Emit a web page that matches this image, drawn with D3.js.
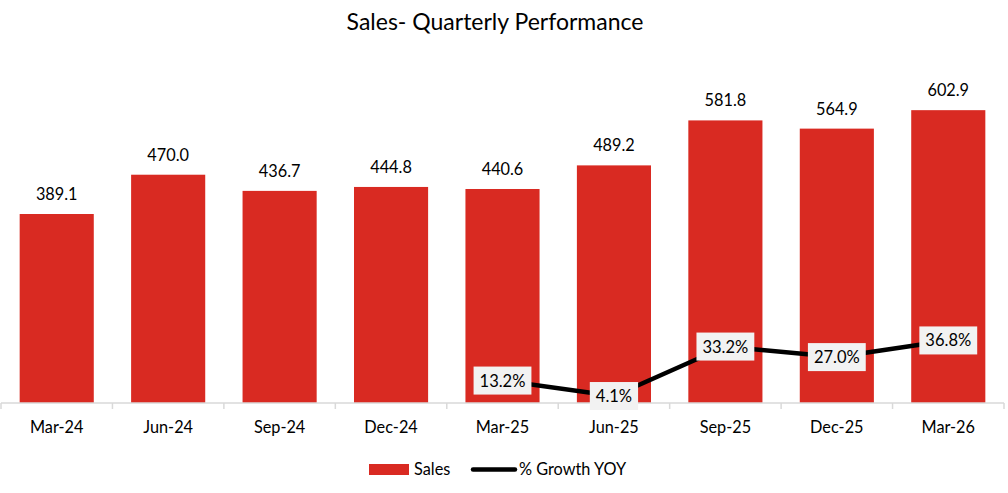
<!DOCTYPE html>
<html>
<head>
<meta charset="utf-8">
<script src="https://cdn.jsdelivr.net/npm/d3@7"></script>
<style>
  body { margin: 0; background: #fff; }
  svg text { font-family: Lato, "Noto Sans", sans-serif; fill: #000; }
</style>
</head>
<body>
<div id="chart"></div>
<script>
// chart data
var quarters = ["Mar-24", "Jun-24", "Sep-24", "Dec-24", "Mar-25", "Jun-25", "Sep-25", "Dec-25", "Mar-26"];
var sales = [389.1, 470.0, 436.7, 444.8, 440.6, 489.2, 581.8, 564.9, 602.9];
var growth = [null, null, null, null, 13.2, 4.1, 33.2, 27.0, 36.8];

var width = 1008;
var height = 493;
var margin = { top: 63, right: 4, bottom: 90, left: 1 };

var svg = d3.select("#chart")
  .append("svg")
  .attr("width", width)
  .attr("height", height);

var x = d3.scaleBand()
  .domain(quarters)
  .range([margin.left, width - margin.right])
  .paddingInner(0.335)
  .paddingOuter(0.1675);

var y = d3.scaleLinear()
  .domain([0, 700])
  .range([height - margin.bottom, margin.top]);

// secondary axis for % growth (hidden)
var y2 = d3.scaleLinear()
  .domain([0, 200])
  .range([height - margin.bottom, margin.top]);

var step = x.step();
var x0 = x.range()[0];

// title
svg.append("text")
  .attr("x", 495)
  .attr("y", 30)
  .attr("text-anchor", "middle")
  .style("font-size", "23px")
  .text("Sales- Quarterly Performance");

// bars
svg.append("g")
  .selectAll("rect")
  .data(sales)
  .enter()
  .append("rect")
  .attr("x", (d, i) => x(quarters[i]))
  .attr("y", d => y(d))
  .attr("width", x.bandwidth())
  .attr("height", d => y(0) - y(d))
  .attr("fill", "#D92A22");

// bar labels
svg.append("g")
  .selectAll("text")
  .data(sales)
  .enter()
  .append("text")
  .attr("x", (d, i) => x(quarters[i]) + x.bandwidth() / 2)
  .attr("y", d => y(d) - 14)
  .attr("text-anchor", "middle")
  .style("font-size", "16.3px")
  .text(d => d.toFixed(1));

// x axis
var axisY = y(0);
var axis = svg.append("g");
axis.append("line")
  .attr("x1", x0)
  .attr("x2", x0 + step * quarters.length)
  .attr("y1", axisY)
  .attr("y2", axisY)
  .attr("stroke", "#D9D9D9")
  .attr("stroke-width", 1.5);
axis.selectAll(".tick")
  .data(d3.range(quarters.length + 1))
  .enter()
  .append("line")
  .attr("x1", i => x0 + i * step)
  .attr("x2", i => x0 + i * step)
  .attr("y1", axisY)
  .attr("y2", axisY + 6)
  .attr("stroke", "#D9D9D9")
  .attr("stroke-width", 1.5);
axis.selectAll("text")
  .data(quarters)
  .enter()
  .append("text")
  .attr("x", d => x(d) + x.bandwidth() / 2)
  .attr("y", 433)
  .attr("text-anchor", "middle")
  .style("font-size", "16.3px")
  .text(d => d);

// growth line
var pts = growth.map((g, i) => ({ q: quarters[i], v: g }));
var line = d3.line()
  .defined(d => d.v != null)
  .x(d => x(d.q) + x.bandwidth() / 2)
  .y(d => y2(d.v));

svg.append("path")
  .datum(pts)
  .attr("d", line)
  .attr("fill", "none")
  .attr("stroke", "#000")
  .attr("stroke-width", 4.5)
  .attr("stroke-linejoin", "round");

// growth labels
var lbl = svg.append("g")
  .selectAll("g")
  .data(pts.filter(d => d.v != null))
  .enter()
  .append("g")
  .attr("transform", d => "translate(" + (x(d.q) + x.bandwidth() / 2) + "," + y2(d.v) + ")");
lbl.append("rect")
  .attr("fill", "#F2F2F2");
lbl.append("text")
  .attr("text-anchor", "middle")
  .attr("y", 6)
  .style("font-size", "16.5px")
  .text(d => d.v.toFixed(1) + "%");
lbl.each(function() {
  var g = d3.select(this);
  var w = g.select("text").node().getComputedTextLength();
  g.select("rect")
    .attr("x", -w / 2 - 6)
    .attr("y", -14)
    .attr("width", w + 12)
    .attr("height", 28);
});

// legend
var legend = svg.append("g");
legend.append("rect")
  .attr("x", 369)
  .attr("y", 464)
  .attr("width", 40)
  .attr("height", 11)
  .attr("fill", "#D92A22");
legend.append("text")
  .attr("x", 414)
  .attr("y", 475)
  .style("font-size", "16.3px")
  .text("Sales");
legend.append("line")
  .attr("x1", 473)
  .attr("x2", 515)
  .attr("y1", 469.5)
  .attr("y2", 469.5)
  .attr("stroke", "#000")
  .attr("stroke-width", 4.5)
  .attr("stroke-linecap", "round");
legend.append("text")
  .attr("x", 519)
  .attr("y", 475)
  .style("font-size", "16.3px")
  .text("% Growth YOY");
</script>
</body>
</html>
